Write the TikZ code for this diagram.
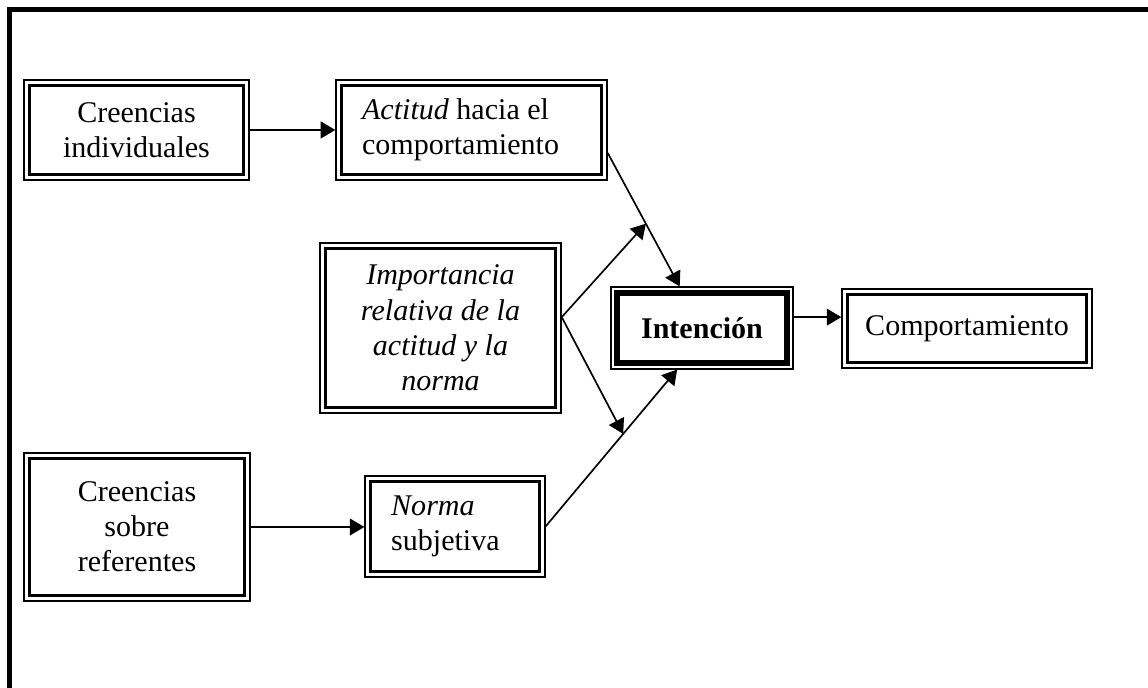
\documentclass[tikz,border=0pt]{standalone}
\usepackage{fontspec}
\setmainfont{Liberation Serif}
\usetikzlibrary{calc,arrows.meta}

\tikzset{
  framed/.style 2 args={path picture={\draw[line width=#1]
      ([shift={(#2,#2)}]path picture bounding box.south west) rectangle
      ([shift={(-#2,-#2)}]path picture bounding box.north east);}},
  dblbox/.style={draw, line width=.6pt, framed={1.3pt}{2.3pt}, align=center,
      font=\fontsize{13.4}{15.7}\selectfont},
  boldbox/.style={draw, line width=.5pt, framed={2.6pt}{2.8pt}, align=center,
      font=\fontsize{13.4}{15.7}\selectfont\bfseries}
}

\begin{document}
\begin{tikzpicture}
            \useasboundingbox (0,0) rectangle (18,10.787);
            % marco exterior
            \draw[line width=2.2pt] (0.149,0) -- (0.149,10.638) -- (18,10.638);

            \node[dblbox, minimum width=3.53cm, minimum height=1.57cm] (ci) at (2.14,8.749)
                {Creencias\\individuales};
            \node[dblbox, align=flush left, text width=3.43cm, inner xsep=.41cm, minimum height=1.57cm] (act) at (7.393,8.749)
                {\textit{Actitud} hacia el\\comportamiento};
            \node[dblbox, minimum width=3.78cm, minimum height=2.665cm, font=\fontsize{13.4}{15.7}\selectfont\itshape] (imp) at (6.907,5.644)
                {Importancia\\relativa de la\\actitud y la\\norma};
            \node[boldbox, minimum width=2.854cm, minimum height=1.286cm] (int) at (11.007,5.644)
                {Intención};
            \node[dblbox, minimum width=3.92cm, minimum height=1.24cm] (comp) at (15.162,5.637)
                {Comportamiento};
            \node[dblbox, minimum width=3.54cm, minimum height=2.32cm] (csr) at (2.148,2.524)
                {Creencias\\sobre\\referentes};
            \node[dblbox, align=flush left, text width=2.0cm, inner xsep=.41cm, minimum height=1.584cm] (nor) at (7.134,2.532)
                {\textit{Norma}\\subjetiva};

            \coordinate (aout) at ([yshift=-.36cm]act.east);
            \coordinate (itop) at ([xshift=-.35cm]int.north);
            \coordinate (ibot) at ([xshift=-.39cm]int.south);
            \coordinate (iout) at ([yshift=.17cm]imp.east);
            \coordinate (j1) at ($(aout)!.53!(itop)$);
            \coordinate (j2) at ($(nor.east)!.59!(ibot)$);

            \begin{scope}[-{Triangle[length=6.5pt,width=7.5pt]},line width=.75pt]
                \draw (ci.east) -- (act.west);
                \draw (aout) -- (itop);
                \draw (iout) -- (j1);
                \draw (iout) -- (j2);
                \draw (nor.east) -- (ibot);
                \draw ([yshift=.17cm]int.east) -- ([yshift=.17cm]int.east -| comp.west);
                \draw (csr.east) -- (csr.east -| nor.west);
            \end{scope}
        \end{tikzpicture}
\end{document}
